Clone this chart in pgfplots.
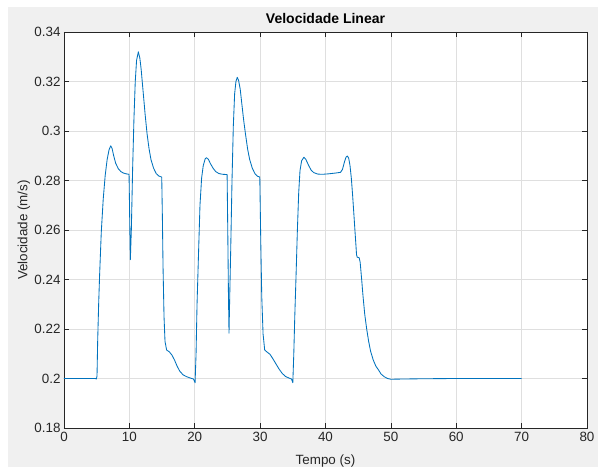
\documentclass[border=0pt]{standalone}
\usepackage{pgfplots}
\pgfplotsset{compat=1.18}
\usepackage{fontspec}
\setmainfont{Liberation Sans}
\definecolor{mlblue}{RGB}{0,114,189}
\definecolor{figgray}{RGB}{240,240,240}
\definecolor{axgray}{RGB}{38,38,38}
\definecolor{gridgray}{RGB}{223,223,223}
\begin{document}
\begin{tikzpicture}
\path[fill=white] (0pt,0pt) rectangle (603pt,472pt);
\fill[figgray] (8pt,5pt) rectangle (598pt,465pt);
\begin{axis}[
  at={(64pt,44pt)}, anchor=south west,
  scale only axis, width=523pt, height=396pt,
  xmin=0, xmax=80, ymin=0.18, ymax=0.34,
  xtick={0,10,...,80},
  ytick={0.18,0.2,0.22,0.24,0.26,0.28,0.3,0.32,0.34},
  yticklabels={0.18,0.2,0.22,0.24,0.26,0.28,0.3,0.32,0.34},
  axis background/.style={fill=white},
  grid=major,
  major grid style={gridgray, line width=0.6pt},
  axis line style={axgray, line width=0.6pt},
  tick style={axgray, line width=0.6pt},
  tick align=inside, tick pos=both,
  major tick length=5pt,
  /pgf/number format/assume math mode=true,
  tick label style={font=\fontsize{13.4}{15}\selectfont, text=axgray},
  yticklabel style={xshift=0pt},
  xticklabel style={yshift=-1pt},
  title={\bfseries Velocidade Linear},
  title style={at={(axis description cs:0.5,1.018)}, anchor=center, font=\fontsize{14}{16}\selectfont, text=black},
  xlabel={Tempo (s)},
  ylabel={Velocidade (m/s)},
  xlabel style={at={(axis description cs:0.5,-0.083)}, anchor=center, font=\fontsize{13.4}{15}\selectfont, text=axgray},
  ylabel style={at={(axis description cs:-0.0765,0.5)}, anchor=center, rotate=0, font=\fontsize{13.4}{15}\selectfont, text=axgray},
]
\addplot[mlblue, line width=0.85pt, line join=round] coordinates {
(0,0.2000) (4.8,0.2000) (4.95,0.1998) (5.05,0.2010) (5.15,0.2150) (5.3,0.2300) (5.45,0.2420) (5.7,0.2590) (6.0,0.2725) (6.3,0.2820) (6.6,0.2885) (6.9,0.2925) (7.15,0.2940) (7.35,0.2930) (7.6,0.2900) (7.9,0.2870) (8.3,0.2848) (8.7,0.2836) (9.1,0.2830) (9.5,0.2827) (9.95,0.2825)
(10.02,0.2700) (10.1,0.2550) (10.15,0.2480) (10.3,0.2600) (10.5,0.2850) (10.7,0.3050) (10.9,0.3200) (11.1,0.3285) (11.37,0.3320) (11.6,0.3295) (11.8,0.3250) (12.1,0.3160) (12.4,0.3070) (12.7,0.2990) (13.0,0.2930) (13.3,0.2885) (13.7,0.2850) (14.1,0.2828) (14.5,0.2818) (14.95,0.2814)
(15.05,0.2650) (15.15,0.2450) (15.3,0.2250) (15.45,0.2150) (15.7,0.2115) (16.1,0.2108) (16.5,0.2095) (16.9,0.2075) (17.3,0.2050) (17.7,0.2030) (18.2,0.2015) (18.7,0.2008) (19.3,0.2002) (19.8,0.1998) (20.05,0.1983)
(20.2,0.2100) (20.35,0.2300) (20.55,0.2480) (20.8,0.2700) (21.05,0.2810) (21.3,0.2860) (21.6,0.2888) (21.8,0.2892) (22.1,0.2885) (22.4,0.2868) (22.8,0.2850) (23.2,0.2836) (23.7,0.2828) (24.3,0.2825) (24.95,0.2824)
(25.05,0.2600) (25.15,0.2350) (25.24,0.2183) (25.35,0.2330) (25.5,0.2520) (25.7,0.2800) (25.9,0.3020) (26.1,0.3150) (26.3,0.3200) (26.5,0.3217) (26.7,0.3205) (26.95,0.3170) (27.2,0.3110) (27.5,0.3040) (27.8,0.2980) (28.1,0.2925) (28.4,0.2885) (28.8,0.2850) (29.2,0.2828) (29.6,0.2817) (29.95,0.2814)
(30.1,0.2550) (30.25,0.2330) (30.45,0.2180) (30.7,0.2115) (31.1,0.2106) (31.5,0.2098) (31.9,0.2082) (32.4,0.2060) (32.9,0.2038) (33.4,0.2020) (33.9,0.2008) (34.4,0.2002) (34.8,0.1998) (35.0,0.1983)
(35.15,0.2100) (35.3,0.2250) (35.5,0.2420) (35.7,0.2600) (35.9,0.2750) (36.1,0.2840) (36.35,0.2880) (36.7,0.2894) (37.0,0.2885) (37.4,0.2862) (37.8,0.2842) (38.2,0.2832) (38.8,0.2826) (39.5,0.2825) (40.5,0.2827) (41.5,0.2830) (42.3,0.2833) (42.6,0.2845) (42.9,0.2875) (43.15,0.2895) (43.35,0.2899) (43.55,0.2890) (43.75,0.2860) (43.95,0.2810) (44.15,0.2740) (44.35,0.2660) (44.55,0.2580) (44.75,0.2500) (44.85,0.2490) (45.15,0.2488) (45.3,0.2470) (45.5,0.2410) (45.75,0.2330) (46.0,0.2260) (46.3,0.2200) (46.6,0.2150) (46.9,0.2110) (47.3,0.2075) (47.7,0.2050) (48.1,0.2035) (48.5,0.2018) (49.0,0.2007) (49.5,0.2000) (50.0,0.1997) (52,0.1998) (55,0.1999) (60,0.2000) (70,0.2000)
};
\end{axis}
\end{tikzpicture}
\end{document}
